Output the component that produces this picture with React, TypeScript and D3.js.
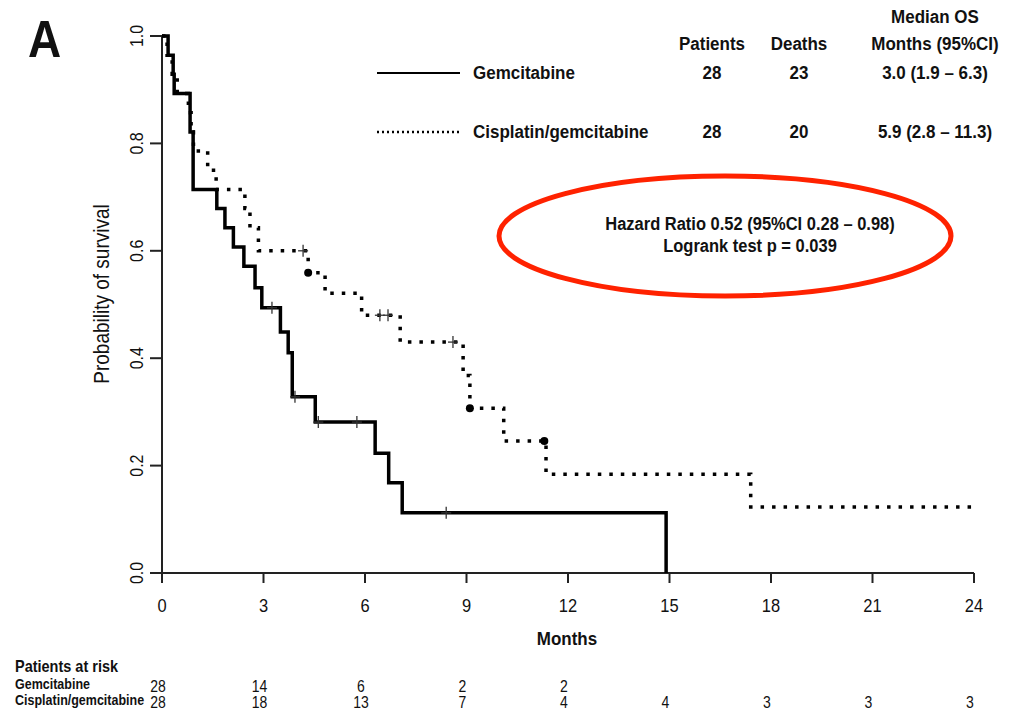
import React from 'react';
import * as d3 from 'd3';

// Kaplan-Meier steps (months, survival after the step)
const gemTimes = [0, 0.18, 0.33, 0.36, 0.83, 0.92, 1.62, 1.86, 2.11, 2.42, 2.75, 2.95, 3.5, 3.73, 3.85, 4.53, 6.3, 6.7, 7.1, 14.9];
const gemSurv = [1.0, 0.964, 0.929, 0.893, 0.821, 0.714, 0.679, 0.643, 0.607, 0.571, 0.531, 0.494, 0.449, 0.41, 0.328, 0.281, 0.223, 0.168, 0.112, 0];
const gemCensor = [3.25, 3.93, 4.62, 5.76, 8.4];

const cisTimes = [0, 0.15, 0.3, 0.45, 0.78, 0.86, 0.93, 1.35, 1.6, 2.45, 2.6, 2.85, 4.32, 4.82, 5.9, 7.04, 8.9, 9.1, 10.1, 11.35, 17.4];
const cisSurv = [1.0, 0.964, 0.929, 0.893, 0.857, 0.821, 0.786, 0.75, 0.714, 0.679, 0.643, 0.6, 0.559, 0.521, 0.48, 0.43, 0.368, 0.307, 0.246, 0.184, 0.123];
const cisEnd = 24;
const cisCensor = [4.17, 6.44, 6.68, 8.6];
const cisDots = [4.32, 9.1, 11.3];

const xTicks = [0, 3, 6, 9, 12, 15, 18, 21, 24];
const yTicks = [0, 0.2, 0.4, 0.6, 0.8, 1.0];

const riskTimes = [0, 3, 6, 9, 12, 15, 18, 21, 24];
const gemRisk = [28, 14, 6, 2, 2];
const cisRisk = [28, 18, 13, 7, 4, 4, 3, 3, 3];

const legendNames = ['Gemcitabine', 'Cisplatin/gemcitabine'];
const legendPatients = [28, 28];
const legendDeaths = [23, 20];
const legendMedian = ['3.0 (1.9 – 6.3)', '5.9 (2.8 – 11.3)'];

const FONT = '"Liberation Sans", Arial, sans-serif';
const SY = 1.12;

function T({ x, y, size = 16, weight = 'normal', anchor = 'start', rot = false, fill = '#111', children }: any) {
  const tr = `translate(${x},${y})${rot ? ' rotate(-90)' : ''} scale(1,${SY})`;
  return (
    <text transform={tr} fontSize={size} fontWeight={weight} textAnchor={anchor} fill={fill} fontFamily={FONT}>
      {children}
    </text>
  );
}

export default function App() {
  const x = d3.scaleLinear().domain([0, 24]).range([162, 974]);
  const y = d3.scaleLinear().domain([0, 1]).range([573, 36]);

  const line = d3.line<[number, number]>()
    .x(d => x(d[0]))
    .y(d => y(d[1]))
    .curve(d3.curveStepAfter);

  const gemPts: [number, number][] = gemTimes.map((t, i) => [t, gemSurv[i]]);
  const cisPts: [number, number][] = cisTimes.map((t, i) => [t, cisSurv[i]]);
  cisPts.push([cisEnd, cisSurv[cisSurv.length - 1]]);

  // survival at time t from a step function
  const survAt = (times: number[], surv: number[], t: number) => {
    const i = d3.bisectRight(times, t) - 1;
    return surv[Math.max(0, i)];
  };

  const plus = (t: number, s: number, key: string) => (
    <g key={key} stroke="#333" strokeWidth={1.3}>
      <line x1={x(t)} x2={x(t)} y1={y(s) - 6} y2={y(s) + 6} />
      <line x1={x(t) - 5} x2={x(t) + 5} y1={y(s)} y2={y(s)} />
    </g>
  );

  const legendY = [73, 132];

  return (
    <svg width={1023} height={711} style={{ position: 'absolute', left: 0, top: 0, background: '#fff' }}>
      <T x={28} y={57} size={46} weight="bold">A</T>

      {/* axes */}
      <g stroke="#222" strokeWidth={2}>
        <line x1={x(0)} x2={x(0)} y1={y(1)} y2={y(0)} />
        <line x1={x(0)} x2={x(24)} y1={y(0)} y2={y(0)} />
        {yTicks.map(v => <line key={v} x1={x(0) - 12} x2={x(0)} y1={y(v)} y2={y(v)} />)}
        {xTicks.map(v => <line key={v} x1={x(v)} x2={x(v)} y1={y(0)} y2={y(0) + 10} />)}
      </g>
      {yTicks.map(v => (
        <T key={v} x={143} y={y(v)} size={16} anchor="middle" rot>{v.toFixed(1)}</T>
      ))}
      {xTicks.map(v => (
        <T key={v} x={x(v)} y={612} size={16.5} anchor="middle">{v}</T>
      ))}
      <T x={567} y={645} size={17} weight="bold" anchor="middle">Months</T>
      <T x={109} y={294} size={19} anchor="middle" rot>Probability of survival</T>

      {/* curves */}
      <path d={line(gemPts) || ''} fill="none" stroke="#000" strokeWidth={3.5} />
      <path d={line(cisPts) || ''} fill="none" stroke="#000" strokeWidth={3.5} strokeDasharray="3.5 8" />
      {gemCensor.map((t, i) => plus(t, survAt(gemTimes, gemSurv, t), 'g' + i))}
      {cisCensor.map((t, i) => plus(t, survAt(cisTimes, cisSurv, t), 'c' + i))}
      {cisDots.map((t, i) => (
        <circle key={i} cx={x(t)} cy={y(survAt(cisTimes, cisSurv, t))} r={4} fill="#000" />
      ))}

      {/* legend table */}
      <T x={935} y={23} size={17} weight="bold" anchor="middle">Median OS</T>
      <T x={712} y={50} size={17} weight="bold" anchor="middle">Patients</T>
      <T x={799} y={50} size={17} weight="bold" anchor="middle">Deaths</T>
      <T x={935} y={50} size={17} weight="bold" anchor="middle">Months (95%CI)</T>
      {legendNames.map((name, i) => (
        <g key={name}>
          <line x1={377} x2={460} y1={legendY[i]} y2={legendY[i]} stroke="#000"
            strokeWidth={i === 0 ? 2.2 : 2.5} strokeDasharray={i === 0 ? undefined : '2 3'} />
          <T x={473} y={legendY[i] + 6} size={17} weight="bold">{name}</T>
          <T x={712} y={legendY[i] + 6} size={17} weight="bold" anchor="middle">{legendPatients[i]}</T>
          <T x={799} y={legendY[i] + 6} size={17} weight="bold" anchor="middle">{legendDeaths[i]}</T>
          <T x={935} y={legendY[i] + 6} size={17} weight="bold" anchor="middle">{legendMedian[i]}</T>
        </g>
      ))}

      {/* hazard ratio */}
      <ellipse cx={725} cy={236} rx={226} ry={60} fill="none" stroke="#ff2200" strokeWidth={5} />
      <T x={750} y={230} size={16.5} weight="bold" anchor="middle">Hazard Ratio 0.52 (95%CI 0.28 – 0.98)</T>
      <T x={750} y={252} size={16.5} weight="bold" anchor="middle">Logrank test p = 0.039</T>

      {/* patients at risk */}
      <T x={15} y={672} size={14.5} weight="bold">Patients at risk</T>
      <T x={15} y={689} size={12.5} weight="bold">Gemcitabine</T>
      <T x={15} y={705} size={12.5} weight="bold">Cisplatin/gemcitabine</T>
      {gemRisk.map((n, i) => (
        <T key={i} x={x(riskTimes[i]) - 4} y={692} size={14} anchor="middle">{n}</T>
      ))}
      {cisRisk.map((n, i) => (
        <T key={i} x={x(riskTimes[i]) - 4} y={708} size={14} anchor="middle">{n}</T>
      ))}
    </svg>
  );
}
